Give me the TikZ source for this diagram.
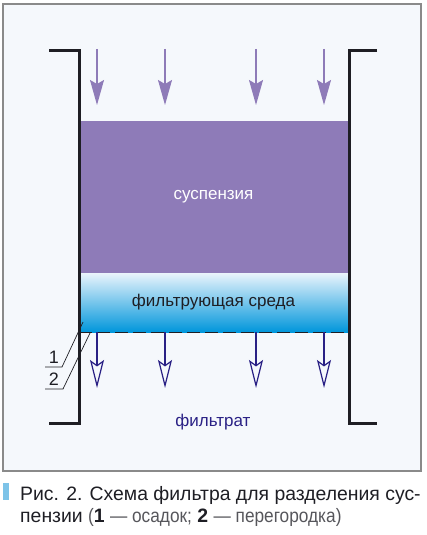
\documentclass[tikz,border=0pt]{standalone}
\usepackage{fontspec}
\setmainfont{Liberation Sans}
\usetikzlibrary{arrows.meta,positioning}

\definecolor{bgc}{HTML}{F5F8FC}
\definecolor{framec}{HTML}{8A8A8A}
\definecolor{wallc}{HTML}{1E1E24}
\definecolor{slurryc}{HTML}{8E7BB8}
\definecolor{feedc}{HTML}{8E7BB8}
\definecolor{drainc}{HTML}{2A2185}
\definecolor{mediumtop}{HTML}{EAF4FC}
\definecolor{mediumbot}{HTML}{0096DB}
\definecolor{capc}{HTML}{7DC3E8}

\newcommand{\lightpart}[1]{{\color{wallc!75}\scalebox{0.89}[1]{#1}}}

\begin{document}
\begin{tikzpicture}[x=1pt,y=-1pt,
  wall/.style={line width=3pt,color=wallc,line join=miter},
  feed/.style={-{Stealth[length=25pt,width=14pt,inset=4pt]},color=feedc,line width=1.2pt},
  drain/.style={-{Stealth[open,length=28pt,width=14pt,inset=5pt]},color=drainc,line width=1.2pt},
  lead/.style={line width=0.7pt,color=wallc},
  layertext/.style={font=\fontsize{17}{20}\selectfont},
  digit/.style={inner sep=0pt,font=\fontsize{18}{20}\selectfont,text=wallc},
  captext/.style={inner sep=0pt,anchor=base west,font=\fontsize{19.4}{22}\selectfont,text=wallc}]
\useasboundingbox (0,0) rectangle (427,535);
\draw[fill=bgc,draw=framec,line width=1.2pt] (3,4) rectangle (421,471);

% brackets of the filter
\coordinate (lt) at (49,51);  \coordinate (lc) at (79,51);
\coordinate (lb) at (79,423); \coordinate (lbb) at (49,423);
\coordinate (rt) at (377,51); \coordinate (rc) at (349,51);
\coordinate (rb) at (349,423); \coordinate (rbb) at (377,423);

% layers
\node[fill=slurryc,minimum width=269pt,minimum height=152pt,inner sep=0pt,
      text=white,layertext] (susp) at (213.5,197) {суспензия};
\node[top color=mediumtop,bottom color=mediumbot,minimum width=269pt,minimum height=59pt,
      inner sep=0pt,text=wallc,layertext] (medium) at (213.5,302.5) {фильтрующая среда};
\draw[wallc,line width=1pt,dash pattern=on 13pt off 5pt] (medium.south west) -- (medium.south east);

\draw[wall] (lt) -- (lc) -- (lb) -- (lbb);
\draw[wall] (rt) -- (rc) -- (rb) -- (rbb);

% flows
\foreach \x [count=\i] in {97,165,256,324} {
  \coordinate (in\i) at (\x,49);
  \coordinate (inend\i) at (\x,105);
  \coordinate (out\i) at (\x,332);
  \coordinate (outend\i) at (\x,388);
  \draw[feed] (in\i) -- (inend\i);
  \draw[drain] (out\i) -- (outend\i);
}

\node[text=drainc,layertext] (filt) at (213,422) {фильтрат};

% callouts
\node[digit] (d1) at (54,357) {1};
\node[digit] (d2) at (54,379) {2};
\coordinate (u1) at (45,367); \coordinate (k1) at (62,367); \coordinate (t1) at (83,322);
\coordinate (u2) at (45,389); \coordinate (k2) at (63,389); \coordinate (t2) at (90,333);
\draw[lead] (u1) -- (k1) -- (t1);
\draw[lead] (u2) -- (k2) -- (t2);

% caption
\fill[capc] (3,483) rectangle (9,500);
\node[captext] (cap1) at (20,500) {Рис. 2. Схема фильтра для разделения сус-};
\node[captext] (cap2) at (20,522) {пензии \lightpart{(}\textbf{1} \lightpart{— осадок;} \textbf{2} \lightpart{— перегородка)}};
\end{tikzpicture}
\end{document}
